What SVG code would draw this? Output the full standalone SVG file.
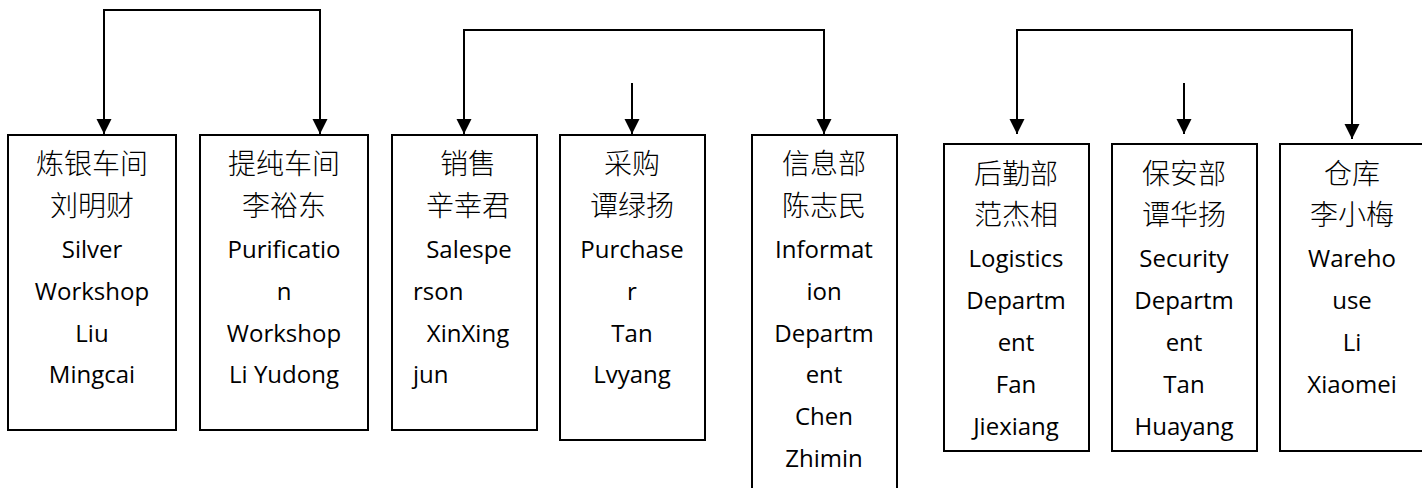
<svg xmlns="http://www.w3.org/2000/svg" width="1422" height="488" viewBox="0 0 1422 488">
<style>
.box{fill:#fff;stroke:#000;stroke-width:2}
.ln{fill:none;stroke:#000;stroke-width:2}
.en{font-family:"Open Sans","Noto Sans",sans-serif;font-size:24px;fill:#000;text-anchor:middle}
.zh{font-family:"Noto Sans CJK SC",sans-serif;font-size:28px;font-weight:300;fill:#000;text-anchor:middle}
.st{text-anchor:start}
</style>
<defs>
<marker id="ah" markerUnits="userSpaceOnUse" markerWidth="16" markerHeight="16" viewBox="0 0 16 16" refX="15" refY="8" orient="auto">
<path d="M0,0.5 L15,8 L0,15.5 z" fill="#000"/>
</marker>
</defs>
<rect width="1422" height="488" fill="#fff"/>
<g id="connectors">
<path class="ln" d="M212,10 H104 V134" marker-end="url(#ah)"/>
<path class="ln" d="M212,10 H320 V134" marker-end="url(#ah)"/>
<path class="ln" d="M632,30 H464 V134" marker-end="url(#ah)"/>
<path class="ln" d="M632,30 H824 V134" marker-end="url(#ah)"/>
<path class="ln" d="M632,83 V134" marker-end="url(#ah)"/>
<path class="ln" d="M1184,30 H1017 V134" marker-end="url(#ah)"/>
<path class="ln" d="M1184,30 H1352 V139" marker-end="url(#ah)"/>
<path class="ln" d="M1184,83 V134" marker-end="url(#ah)"/>
</g>
<g id="n1">
<rect class="box" x="8" y="135" width="168" height="295"/>
<text class="zh" x="92" y="174">炼银车间</text>
<text class="zh" x="92" y="216">刘明财</text>
<text class="en" x="92" y="258">Silver</text>
<text class="en" x="92" y="300">Workshop</text>
<text class="en" x="92" y="342">Liu</text>
<text class="en" x="92" y="383">Mingcai</text>
</g>
<g id="n2">
<rect class="box" x="200" y="135" width="168" height="295"/>
<text class="zh" x="284" y="174">提纯车间</text>
<text class="zh" x="284" y="216">李裕东</text>
<text class="en" x="284" y="258">Purificatio</text>
<text class="en" x="284" y="300">n</text>
<text class="en" x="284" y="342">Workshop</text>
<text class="en" x="284" y="383">Li Yudong</text>
</g>
<g id="n3">
<rect class="box" x="392" y="135" width="145" height="295"/>
<text class="zh" x="468" y="174">销售</text>
<text class="zh" x="468" y="216">辛幸君</text>
<text class="en" x="469" y="258">Salespe</text>
<text class="en st" x="413" y="300">rson</text>
<text class="en" x="468" y="342">XinXing</text>
<text class="en st" x="413" y="383">jun</text>
</g>
<g id="n4">
<rect class="box" x="560" y="135" width="145" height="305"/>
<text class="zh" x="632" y="174">采购</text>
<text class="zh" x="632" y="216">谭绿扬</text>
<text class="en" x="632" y="258">Purchase</text>
<text class="en" x="632" y="300">r</text>
<text class="en" x="632" y="342">Tan</text>
<text class="en" x="632" y="383">Lvyang</text>
</g>
<g id="n5">
<rect class="box" x="752" y="135" width="145" height="365"/>
<text class="zh" x="824" y="174">信息部</text>
<text class="zh" x="824" y="216">陈志民</text>
<text class="en" x="824" y="258">Informat</text>
<text class="en" x="824" y="300">ion</text>
<text class="en" x="824" y="342">Departm</text>
<text class="en" x="824" y="383">ent</text>
<text class="en" x="824" y="425">Chen</text>
<text class="en" x="824" y="467">Zhimin</text>
</g>
<g id="n6">
<rect class="box" x="944" y="144" width="145" height="307"/>
<text class="zh" x="1016" y="184">后勤部</text>
<text class="zh" x="1016" y="225">范杰相</text>
<text class="en" x="1016" y="267">Logistics</text>
<text class="en" x="1016" y="309">Departm</text>
<text class="en" x="1016" y="351">ent</text>
<text class="en" x="1016" y="393">Fan</text>
<text class="en" x="1016" y="435">Jiexiang</text>
</g>
<g id="n7">
<rect class="box" x="1112" y="144" width="145" height="307"/>
<text class="zh" x="1184" y="184">保安部</text>
<text class="zh" x="1184" y="225">谭华扬</text>
<text class="en" x="1184" y="267">Security</text>
<text class="en" x="1184" y="309">Departm</text>
<text class="en" x="1184" y="351">ent</text>
<text class="en" x="1184" y="393">Tan</text>
<text class="en" x="1184" y="435">Huayang</text>
</g>
<g id="n8">
<rect class="box" x="1280" y="144" width="146" height="307"/>
<text class="zh" x="1352" y="184">仓库</text>
<text class="zh" x="1352" y="225">李小梅</text>
<text class="en" x="1352" y="267">Wareho</text>
<text class="en" x="1352" y="309">use</text>
<text class="en" x="1352" y="351">Li</text>
<text class="en" x="1352" y="393">Xiaomei</text>
</g>
</svg>
